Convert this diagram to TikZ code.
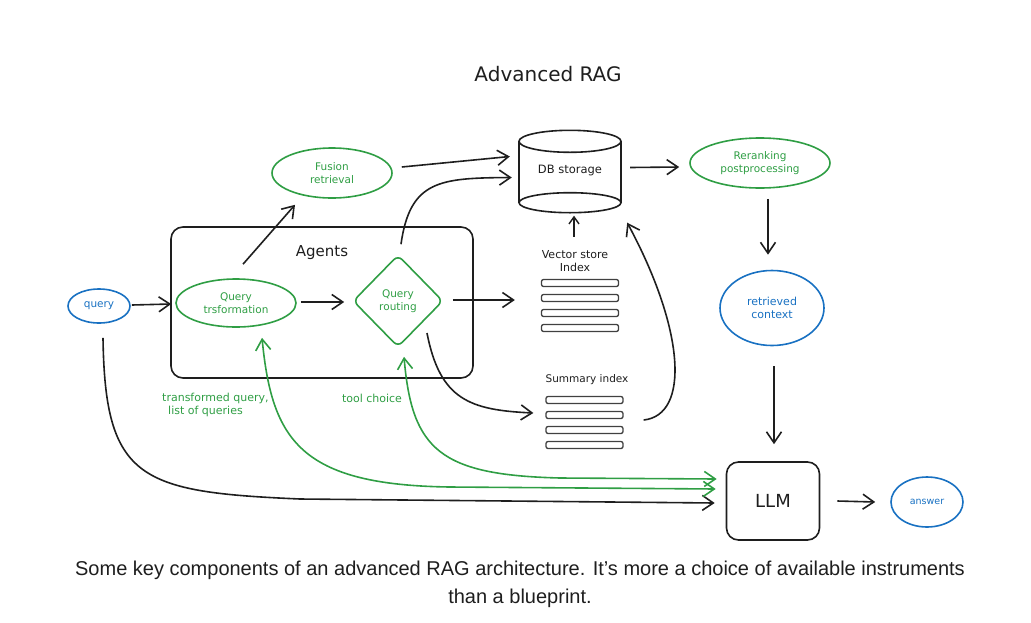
\documentclass[tikz,border=0pt]{standalone}
\usepackage{fontspec}
\setmainfont{Liberation Sans}
\newfontfamily\hand{DejaVu Sans}
\usetikzlibrary{arrows.meta,shapes.geometric,calc}
\definecolor{ink}{HTML}{1E1E1E}
\definecolor{grn}{HTML}{2F9E44}
\definecolor{blu}{HTML}{1971C2}
\newcommand{\hs}[1]{\hand\fontsize{#1}{#1}\selectfont\setlength{\baselineskip}{1.25\baselineskip}}
\begin{document}
\begin{tikzpicture}[x=1pt,y=-1pt,
  tipb/.tip={Straight Barb[length=11pt,width=15pt,line width=1.6pt]},
  tips/.tip={Straight Barb[length=7pt,width=10pt,line width=1.4pt]},
  arr/.style={draw=ink,line width=1.6pt,-tipb},
  sarr/.style={draw=ink,line width=1.4pt,-tips},
  garr/.style={draw=grn,line width=1.6pt,tipb-tipb},
  gell/.style={ellipse,draw=grn,line width=1.6pt,text=grn,align=center,inner sep=0pt,font=\hs{10.5}},
  bell/.style={ellipse,draw=blu,line width=1.6pt,text=blu,align=center,inner sep=0pt,font=\hs{10.5}},
  bar/.style={draw=ink!85,rounded corners=2pt,minimum width=77pt,minimum height=7pt,inner sep=0pt,line width=1.3pt},
  glbl/.style={text=grn,font=\hs{11},inner sep=0pt},
  klbl/.style={text=ink,font=\hs{10.5},inner sep=0pt,align=center}
]
\useasboundingbox (0,0) rectangle (1031,622);

% title
\node[text=ink,font=\hs{20}] (title) at (548,74) {Advanced RAG};

% agents box
\node[draw=ink,line width=1.6pt,rounded corners=12pt,minimum width=302pt,minimum height=151pt,inner sep=0pt] (agents) at (322,302.5) {};
\node[text=ink,font=\hs{15}] (agl) at (322,253) {Agents};

% nodes
\node[bell,minimum width=62pt,minimum height=34pt] (q) at (99,306) {query};
\node[gell,minimum width=120pt,minimum height=48pt] (qt) at (236,303) {Query\\trsformation};
\node[gell,minimum width=120pt,minimum height=50pt] (fus) at (332,173) {Fusion\\retrieval};
\node[diamond,draw=grn,line width=1.6pt,rounded corners=6pt,text=grn,align=center,inner sep=0pt,
      minimum width=90pt,minimum height=92pt,font=\hs{10.5}] (qr) at (398,301) {Query\\routing};
\node[minimum width=102pt,minimum height=82pt,inner sep=0pt,text=ink,font=\hs{11.5}] (db) at (570,171.5) {\raisebox{4pt}{DB storage}};
\draw[ink,line width=1.6pt] ($(db.north)+(0,11)$) ellipse [x radius=51pt,y radius=11pt];
\draw[ink,line width=1.6pt] ($(db.south)+(0,-10)$) ellipse [x radius=51pt,y radius=10pt];
\draw[ink,line width=1.6pt] ($(db.north west)+(0,11)$) -- ($(db.south west)+(0,-10)$);
\draw[ink,line width=1.6pt] ($(db.north east)+(0,11)$) -- ($(db.south east)+(0,-10)$);
\node[gell,minimum width=140pt,minimum height=50pt] (rer) at (760,163) {Reranking\\postprocessing};
\node[bell,minimum width=104pt,minimum height=75pt,font=\hs{11}] (ctx) at (772,308) {retrieved\\context};
\node[draw=ink,line width=1.6pt,rounded corners=12pt,minimum width=93pt,minimum height=78pt,text=ink,font=\hs{18}] (llm) at (773,501) {LLM};
\node[bell,minimum width=72pt,minimum height=50pt,font=\hs{9.5}] (ans) at (927,502) {answer};

% vector store index
\node[klbl,font=\hs{11}] (vsl) at (575,261) {Vector store\\Index};
\node[bar] (vs1) at (580,283) {};
\node[bar] (vs2) at (580,298) {};
\node[bar] (vs3) at (580,313) {};
\node[bar] (vs4) at (580,328) {};
% summary index
\node[klbl] (sil) at (587,380) {Summary index};
\node[bar] (si1) at (584.5,400) {};
\node[bar] (si2) at (584.5,415) {};
\node[bar] (si3) at (584.5,430) {};
\node[bar] (si4) at (584.5,445) {};

% labels
\node[glbl,anchor=west,align=left] (tql) at (162,405) {transformed query,\\\hspace*{6pt}list of queries};
\node[glbl] (tcl) at (372,398) {tool choice};

% connectors
\draw[arr] ($(q.east)+(1,-1)$) -- ($(qt.west)+(-4,1)$);
\draw[arr] ($(qt.north)+(7,-14)$) -- ($(fus.south)+(-37,6)$);
\draw[arr] ($(fus.east)+(9,-6)$) -- ($(db.west)+(-9,-15)$);
\draw[arr] ($(qt.east)+(4,-1)$) -- ($(qr.west)+(-8,1)$);
\draw[arr] ($(qr.north)+(3,-10)$) .. controls (410,180) and (440,178) .. ($(db.west)+(-7,6)$);
\draw[arr] ($(qr.east)+(9,-1)$) -- ($(vs2.west)+(-26,2)$);
\draw[arr] ($(qr.center)+(29,32)$) .. controls (440,400) and (470,410) .. ($(si2.west)+(-12,-2)$);
\draw[arr] ($(si2.east)+(20,5)$) .. controls (690,415) and (685,330) .. ($(db.south east)+(6,10)$);
\draw[sarr] ($(vsl.north)+(-1,-13)$) -- ($(db.south)+(4,3)$);
\draw[arr] ($(db.east)+(9,-4)$) -- ($(rer.west)+(-10,4)$);
\draw[arr] ($(rer.south)+(8,10)$) -- ($(ctx.north)+(-4,-15)$);
\draw[arr] ($(ctx.south)+(2,20)$) -- ($(llm.north)+(1,-17)$);
\draw[arr] ($(llm.east)+(17,0)$) -- ($(ans.west)+(-15,0)$);
\draw[arr] ($(q.south)+(4,14)$) .. controls (105,480) and (140,492) .. (300,499) -- ($(llm.west)+(-11,2)$);
\draw[garr] ($(qt.south)+(26,10)$) .. controls (272,440) and (300,485) .. (450,487) -- ($(llm.west)+(-10,-12)$);
\draw[garr] ($(qr.south)+(6,9)$) .. controls (412,450) and (440,475) .. (560,478) -- ($(llm.west)+(-9,-22)$);

% caption
\node[font=\rmfamily\fontsize{20}{28}\selectfont,text=ink,align=center] (cap) at (520,584) {Some key components of an advanced RAG architecture. It’s more a choice of available instruments\\than a blueprint.};
\end{tikzpicture}
\end{document}
